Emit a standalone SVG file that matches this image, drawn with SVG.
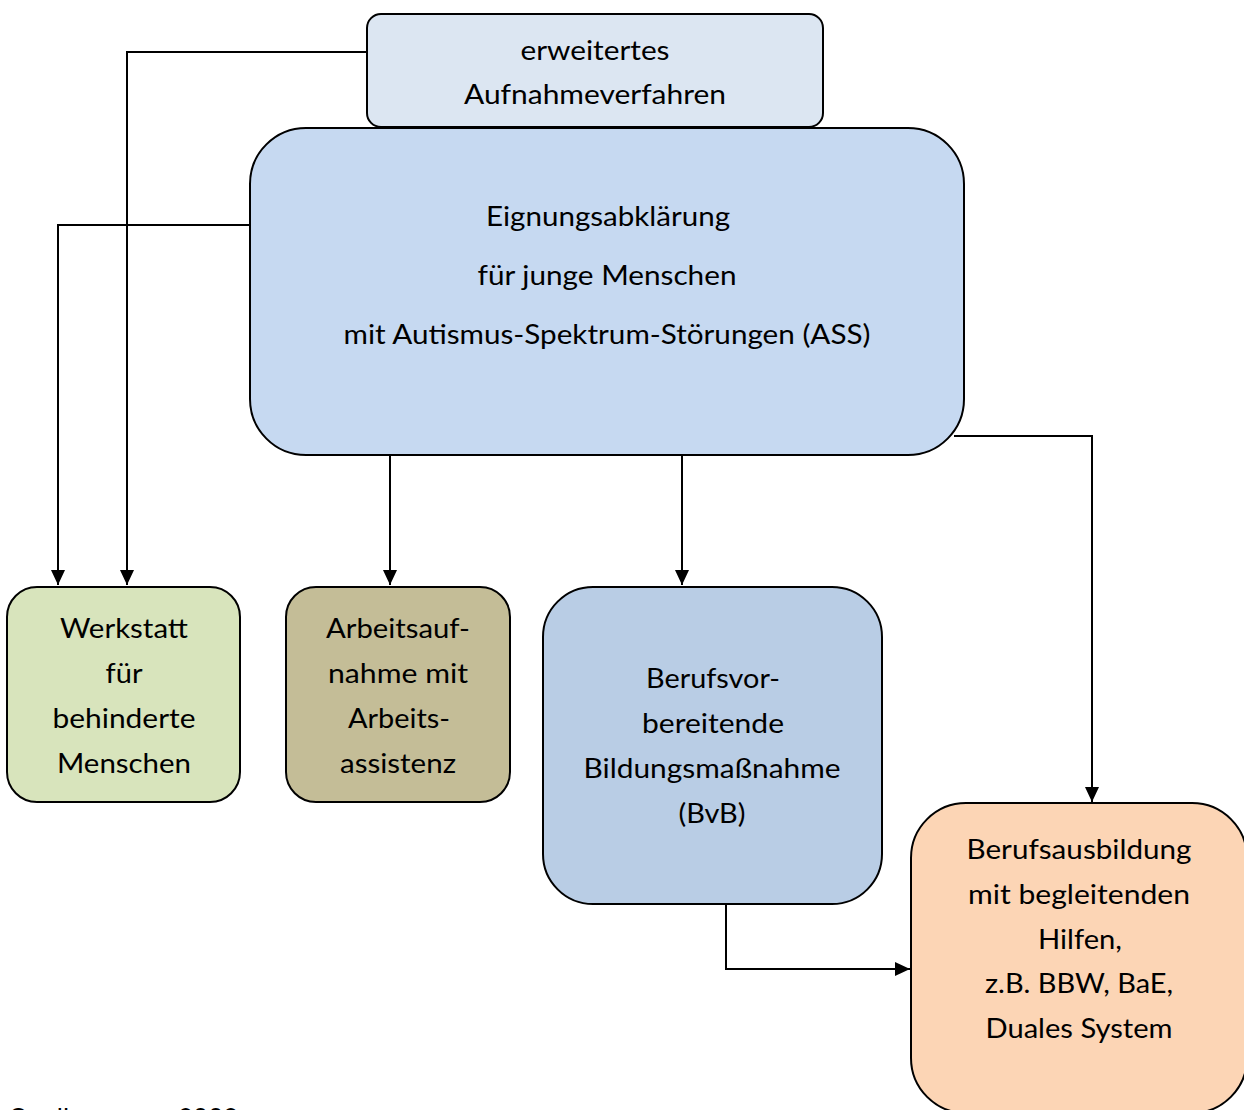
<svg xmlns="http://www.w3.org/2000/svg" width="1244" height="1110" viewBox="0 0 1244 1110">
<style>
.box{stroke:#000;stroke-width:2}
.t{font-family:Lato,"Liberation Sans",sans-serif;font-size:26px;fill:#000;text-anchor:middle}
.c{fill:none;stroke:#000;stroke-width:2}
</style>
<defs>
<marker id="ah" markerUnits="userSpaceOnUse" markerWidth="18" markerHeight="18" viewBox="0 0 18 18" refX="17" refY="9" orient="auto">
<path d="M2,2 L17,9 L2,16 Z" fill="#000"/>
</marker>
</defs>
<rect width="1244" height="1110" fill="#fff"/>
<g id="connectors">
<path class="c" d="M367,52 H127 V585" marker-end="url(#ah)"/>
<path class="c" d="M250,225 H58 V585" marker-end="url(#ah)"/>
<path class="c" d="M390,455 V585" marker-end="url(#ah)"/>
<path class="c" d="M682,455 V585" marker-end="url(#ah)"/>
<path class="c" d="M954,436 H1092 V802" marker-end="url(#ah)"/>
<path class="c" d="M726,904 V969 H910" marker-end="url(#ah)"/>
</g>
<g id="node-aufnahme">
<rect class="box" x="367" y="14" width="456" height="113" rx="14" fill="#dce6f2"/>
<text class="t" x="595" y="60" textLength="149" lengthAdjust="spacingAndGlyphs">erweitertes</text>
<text class="t" x="595" y="104" textLength="262" lengthAdjust="spacingAndGlyphs">Aufnahmeverfahren</text>
</g>
<g id="node-eignung">
<rect class="box" x="250" y="128" width="714" height="327" rx="56" fill="#c6d9f1"/>
<text class="t" x="608" y="226" textLength="244" lengthAdjust="spacingAndGlyphs">Eignungsabklärung</text>
<text class="t" x="607" y="285" textLength="259" lengthAdjust="spacingAndGlyphs">für junge Menschen</text>
<text class="t" x="607" y="344" textLength="527" lengthAdjust="spacingAndGlyphs">mit Autismus-Spektrum-Störungen (ASS)</text>
</g>
<g id="node-werkstatt">
<rect class="box" x="7" y="587" width="233" height="215" rx="30" fill="#d8e4bc"/>
<text class="t" x="124" y="638" textLength="128" lengthAdjust="spacingAndGlyphs">Werkstatt</text>
<text class="t" x="124" y="683" textLength="37" lengthAdjust="spacingAndGlyphs">für</text>
<text class="t" x="124" y="728" textLength="143" lengthAdjust="spacingAndGlyphs">behinderte</text>
<text class="t" x="124" y="773" textLength="134" lengthAdjust="spacingAndGlyphs">Menschen</text>
</g>
<g id="node-arbeit">
<rect class="box" x="286" y="587" width="224" height="215" rx="30" fill="#c4bd97"/>
<text class="t" x="398" y="638" textLength="144" lengthAdjust="spacingAndGlyphs">Arbeitsauf-</text>
<text class="t" x="398" y="683" textLength="140" lengthAdjust="spacingAndGlyphs">nahme mit</text>
<text class="t" x="399" y="728" textLength="102" lengthAdjust="spacingAndGlyphs">Arbeits-</text>
<text class="t" x="398" y="773" textLength="116" lengthAdjust="spacingAndGlyphs">assistenz</text>
</g>
<g id="node-bvb">
<rect class="box" x="543" y="587" width="339" height="317" rx="50" fill="#b9cde5"/>
<text class="t" x="713" y="688" textLength="134" lengthAdjust="spacingAndGlyphs">Berufsvor-</text>
<text class="t" x="713" y="733" textLength="142" lengthAdjust="spacingAndGlyphs">bereitende</text>
<text class="t" x="712" y="778" textLength="257" lengthAdjust="spacingAndGlyphs">Bildungsmaßnahme</text>
<text class="t" x="712" y="823" textLength="67" lengthAdjust="spacingAndGlyphs">(BvB)</text>
</g>
<g id="node-ausbildung">
<rect class="box" x="911" y="803" width="336" height="310" rx="55" fill="#fcd5b5"/>
<text class="t" x="1079" y="859" textLength="225" lengthAdjust="spacingAndGlyphs">Berufsausbildung</text>
<text class="t" x="1079" y="904" textLength="222" lengthAdjust="spacingAndGlyphs">mit begleitenden</text>
<text class="t" x="1080" y="949" textLength="84" lengthAdjust="spacingAndGlyphs">Hilfen,</text>
<text class="t" x="1079" y="993" textLength="188" lengthAdjust="spacingAndGlyphs">z.B. BBW, BaE,</text>
<text class="t" x="1079" y="1038" textLength="187" lengthAdjust="spacingAndGlyphs">Duales System</text>
</g>
<text x="8" y="1128" font-family="Lato,'Liberation Sans',sans-serif" font-size="26">Quelle: … <tspan x="178">2008</tspan></text>
</svg>
